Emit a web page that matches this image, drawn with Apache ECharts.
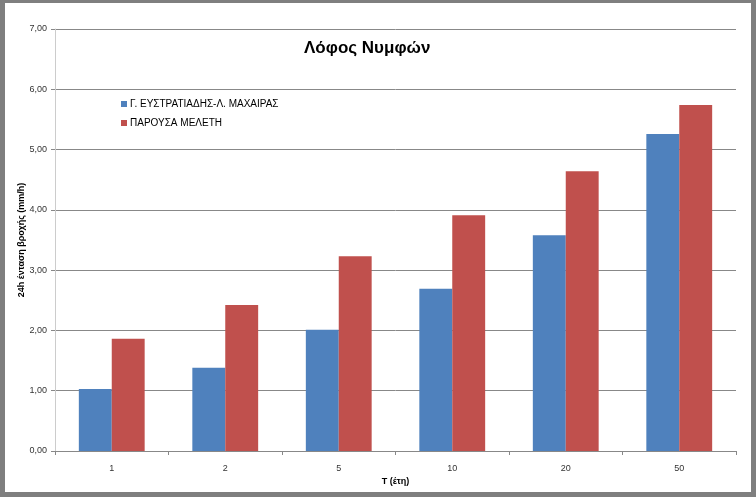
<!DOCTYPE html>
<html>
<head>
<meta charset="utf-8">
<script src="https://cdn.jsdelivr.net/npm/echarts@6/dist/echarts.min.js"></script>
<style>
  html, body { margin: 0; padding: 0; background: #fff; }
  #frame {
    width: 746px; height: 489px;
    border-style: solid; border-color: #7f7f7f;
    border-width: 3px 5px 5px 5px;
  }
  #main { width: 746px; height: 489px; }
</style>
</head>
<body>
<div id="frame"><div id="main"></div></div>
<script>
// περίοδοι επαναφοράς και εντάσεις βροχής
var periods = ['1', '2', '5', '10', '20', '50'];
var seriesNames = ['Γ. ΕΥΣΤΡΑΤΙΑΔΗΣ-Λ. ΜΑΧΑΙΡΑΣ', 'ΠΑΡΟΥΣΑ ΜΕΛΕΤΗ'];
var oldStudy = [1.03, 1.38, 2.01, 2.69, 3.58, 5.26];
var newStudy = [1.86, 2.42, 3.23, 3.91, 4.64, 5.74];

var myChart = echarts.init(document.getElementById('main'));
var font = 'Liberation Sans';

var option = {
    animation: false,
    textStyle: { fontFamily: font },
    title: {
        text: 'Λόφος Νυμφών',
        left: 294,
        top: 32,
        textStyle: { fontSize: 17, fontWeight: 'bold', color: '#000', fontFamily: font }
    },
    legend: {
        orient: 'vertical',
        left: 111,
        top: 91,
        itemWidth: 6,
        itemHeight: 6,
        itemGap: 9,
        icon: 'rect',
        textStyle: { fontSize: 10, color: '#000', padding: [0, 0, 0, -2] },
        data: seriesNames
    },
    grid: { left: 50, right: 15, top: 26, bottom: 41, outerBoundsMode: 'none' },
    xAxis: {
        type: 'category',
        data: periods,
        name: 'Τ (έτη)',
        nameLocation: 'middle',
        nameGap: 26,
        nameMoveOverlap: false,
        nameTextStyle: { fontSize: 9, fontWeight: 'bold', color: '#000' },
        axisLine: { lineStyle: { color: '#888' } },
        axisTick: { show: true, length: 4, lineStyle: { color: '#888' } },
        axisLabel: { fontSize: 9, color: '#333', margin: 13 }
    },
    yAxis: {
        type: 'value',
        min: 0,
        max: 7,
        interval: 1,
        name: '24h ένταση βροχής (mm/h)',
        nameLocation: 'middle',
        nameGap: 29,
        nameMoveOverlap: false,
        nameTextStyle: { fontSize: 9, fontWeight: 'bold', color: '#000' },
        axisLine: { show: true, lineStyle: { color: '#ccc' } },
        axisTick: { show: true, length: 4, lineStyle: { color: '#888' } },
        axisLabel: {
            fontSize: 9, color: '#333', margin: 8,
            formatter: function (v) { return v.toFixed(2).replace('.', ','); }
        },
        splitLine: { lineStyle: { color: '#888' } }
    },
    series: [
        {
            name: seriesNames[0],
            type: 'bar',
            data: oldStudy,
            barGap: '0%',
            barCategoryGap: '42%',
            itemStyle: { color: '#4f81bd' }
        },
        {
            name: seriesNames[1],
            type: 'bar',
            data: newStudy,
            barGap: '0%',
            barCategoryGap: '42%',
            itemStyle: { color: '#c0504d' }
        }
    ]
};

myChart.setOption(option);
</script>
</body>
</html>
